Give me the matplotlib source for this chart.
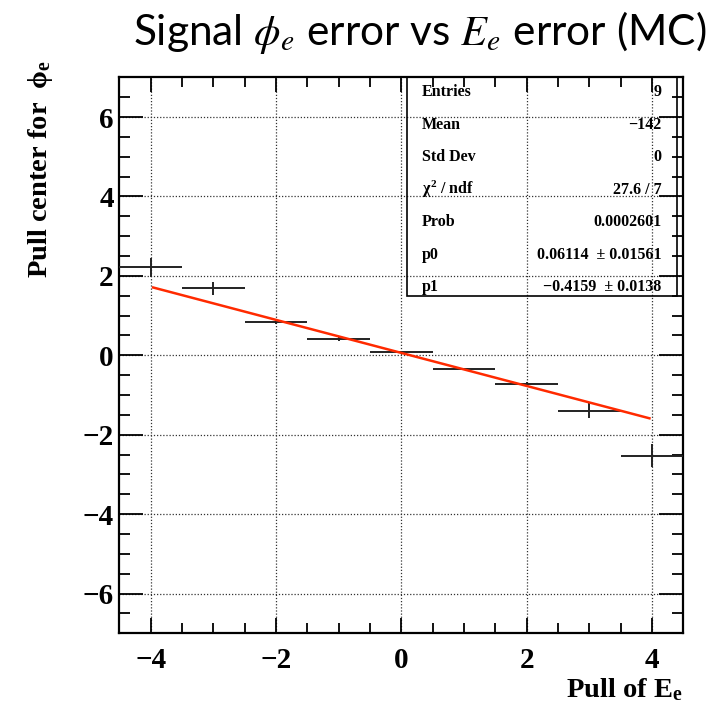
import numpy as np
import matplotlib
matplotlib.use('Agg')
import matplotlib.pyplot as plt
from matplotlib.ticker import MultipleLocator

# pull of E_e bins (centres), pull centre for phi_e and its error
x = [-4, -3, -2, -1, 0, 1, 2, 3, 4]
y = [2.22, 1.69, 0.85, 0.41, 0.09, -0.34, -0.71, -1.40, -2.53]
yerr = [0.24, 0.16, 0.05, 0.05, 0.03, 0.03, 0.04, 0.19, 0.29]
xerr = [0.5] * 9

# linear fit result
p0 = 0.06114
p1 = -0.4159
fit_range = [-3.96, 3.96]

stats_names = ['Entries', 'Mean', 'Std Dev', r'$\chi^{2}$ / ndf', 'Prob', 'p0', 'p1']
stats_vals = ['9', '\u2212142', '0', '27.6 / 7', '0.0002601',
              '0.06114  \u00b1 0.01561', '\u22120.4159  \u00b1 0.0138']

plt.rcParams['mathtext.fontset'] = 'custom'
plt.rcParams['mathtext.rm'] = 'Liberation Serif:bold'
plt.rcParams['mathtext.it'] = 'Liberation Serif:bold'
plt.rcParams['mathtext.bf'] = 'Liberation Serif:bold'

fig = plt.figure(figsize=(7.17, 7.12), dpi=100)
ax = fig.add_axes([0.1664, 0.1105, 0.7866, 0.7809])

ax.errorbar(x, y, xerr=xerr, yerr=yerr, fmt='none', ecolor='#222222',
            elinewidth=1.4, capsize=0, zorder=3)

xf = np.linspace(fit_range[0], fit_range[1], 200)
ax.plot(xf, p0 + p1 * xf, color='#ff2a00', lw=1.8, zorder=4)

ax.set_xlim(-4.5, 4.5)
ax.set_ylim(-7, 7)
ax.xaxis.set_major_locator(MultipleLocator(2))
ax.xaxis.set_minor_locator(MultipleLocator(0.5))
ax.yaxis.set_major_locator(MultipleLocator(2))
ax.yaxis.set_minor_locator(MultipleLocator(0.5))
ax.grid(True, which='major', color='#333333', linestyle=(0, (1, 1.5)), lw=0.9)

ax.tick_params(which='both', direction='in', top=True, right=True, width=1.3)
ax.tick_params(axis='x', which='major', length=11, pad=10)
ax.tick_params(axis='x', which='minor', length=7)
ax.tick_params(axis='y', which='major', length=17, pad=4)
ax.tick_params(axis='y', which='minor', length=8)
for sp in ax.spines.values():
    sp.set_linewidth(1.6)
for lab in ax.get_xticklabels() + ax.get_yticklabels():
    lab.set_fontfamily('Liberation Serif')
    lab.set_fontweight('bold')
    lab.set_fontsize(21)

# stats box
bx0, bx1, by0, by1 = 0.510, 0.988, 0.6067, 1.0
ax.add_patch(plt.Rectangle((bx0, by0), bx1 - bx0, by1 - by0, transform=ax.transAxes,
                           fill=False, ec='black', lw=1.2, zorder=5))
for i, (n, v) in enumerate(zip(stats_names, stats_vals)):
    yy = (633.3 - (92 + 32.5 * i)) / 556
    ax.text(bx0 + 0.026, yy, n, transform=ax.transAxes, ha='left', va='center',
            fontfamily='Liberation Serif', fontweight='bold', fontsize=11.5, zorder=6)
    ax.text(bx1 - 0.027, yy, v, transform=ax.transAxes, ha='right', va='center',
            fontfamily='Liberation Serif', fontweight='bold', fontsize=11.5, zorder=6)

fig.text(0.056, 1 - 60 / 712, r'Pull center for  $\phi_{e}$', rotation=90,
         ha='center', va='top', fontfamily='Liberation Serif', fontweight='bold',
         fontsize=20.5)
fig.text(683 / 717, 1 - 690 / 712, r'Pull of E$_{e}$', ha='right', va='center',
         fontfamily='Liberation Serif', fontweight='bold', fontsize=20.5)

fig.text(420 / 717, 1 - 33 / 712, r'Signal $\phi_e$ error vs $E_e$ error (MC)',
         ha='center', va='center', fontfamily='Lato', fontsize=30.5,
         math_fontfamily='stix')

fig.savefig('out.png', dpi=100)
